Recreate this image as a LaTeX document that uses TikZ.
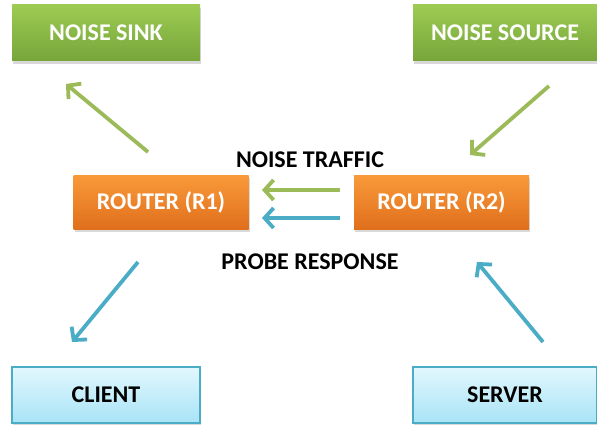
\documentclass[tikz,border=0pt]{standalone}
\usepackage{fontspec}
\setmainfont{Carlito}
\usetikzlibrary{arrows.meta,shadows}
\definecolor{grntop}{HTML}{9DCB53}
\definecolor{grnbot}{HTML}{77A53A}
\definecolor{orgtop}{HTML}{F99A3A}
\definecolor{orgbot}{HTML}{E06F1C}
\definecolor{blutop}{HTML}{E2F7FD}
\definecolor{blubot}{HTML}{A8E4F7}
\definecolor{bluline}{HTML}{4BACC6}
\definecolor{grnline}{HTML}{9BBB59}
\begin{document}
\begin{tikzpicture}[x=1pt,y=-1pt,
  box/.style={minimum width=188pt,minimum height=56pt,inner sep=0pt,
    font=\bfseries\fontsize{24}{28}\selectfont,
    drop shadow={opacity=0.3,shadow xshift=1pt,shadow yshift=-3pt}},
  greenbox/.style={box,top color=grntop,bottom color=grnbot,text=white},
  orangebox/.style={box,minimum width=175pt,minimum height=54pt,top color=orgtop,bottom color=orgbot,text=white},
  bluebox/.style={box,top color=blutop,bottom color=blubot,draw=bluline,line width=1.2pt,text=black},
  label/.style={font=\bfseries\fontsize{24}{28}\selectfont},
  arr/.style={line width=3.8pt,-{Straight Barb[length=9pt,width=20pt]}}]
  \useasboundingbox (0,0) rectangle (597,425);

  % boxes
  \node[greenbox] (sink) at (106,33) {NOISE SINK};
  \node[greenbox,minimum width=184pt] (source) at (505,33) {NOISE SOURCE};
  \node[orangebox] (r1) at (161,202) {ROUTER (R1)};
  \node[orangebox] (r2) at (441.5,202) {ROUTER (R2)};
  \node[bluebox] (client) at (106,395) {CLIENT};
  \node[bluebox,minimum width=184pt] (server) at (505,395) {SERVER};

  \node[label] (traffic) at (310,160) {NOISE TRAFFIC};
  \node[label] (response) at (310,262) {PROBE RESPONSE};

  % arrow ends
  \coordinate (s1) at (148,152);
  \coordinate (s2) at (66,84);
  \coordinate (n1) at (549,86);
  \coordinate (n2) at (470,155);
  \coordinate (g1) at (340,190);
  \coordinate (g2) at (262,190);
  \coordinate (b1) at (340,218);
  \coordinate (b2) at (262,218);
  \coordinate (c1) at (138,262);
  \coordinate (c2) at (72,342);
  \coordinate (v1) at (543,342);
  \coordinate (v2) at (477,262);

  \draw[arr,grnline] (s1) -- (s2);
  \draw[arr,grnline] (n1) -- (n2);
  \draw[arr,grnline] (g1) -- (g2);
  \draw[arr,bluline] (b1) -- (b2);
  \draw[arr,bluline] (c1) -- (c2);
  \draw[arr,bluline] (v1) -- (v2);
\end{tikzpicture}
\end{document}
